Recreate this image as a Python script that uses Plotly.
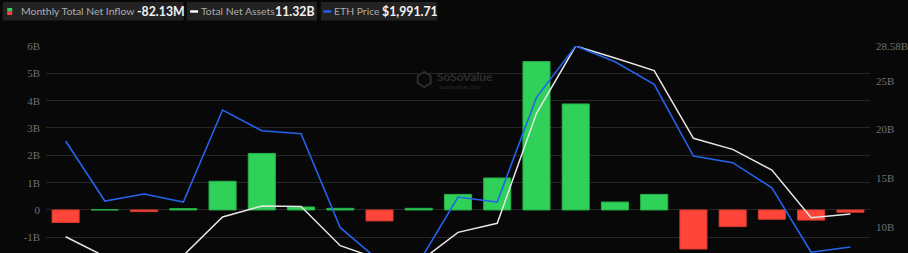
import math
import plotly.graph_objects as go

# ---------------- data ----------------
months = ["2024-07", "2024-08", "2024-09", "2024-10", "2024-11", "2024-12",
          "2025-01", "2025-02", "2025-03", "2025-04", "2025-05", "2025-06",
          "2025-07", "2025-08", "2025-09", "2025-10", "2025-11", "2025-12",
          "2026-01", "2026-02", "2026-03"]
net_inflow_b = [-0.46, 0.01, -0.06, 0.05, 1.05, 2.07, 0.11, 0.06, -0.40, 0.06,
                0.57, 1.17, 5.43, 3.88, 0.29, 0.57, -1.43, -0.61, -0.34, -0.37,
                -0.08213]
total_assets_b = [9.00, 6.97, 7.20, 7.07, 11.02, 12.15, 12.10, 8.08, 6.68, 6.38,
                  9.45, 10.38, 21.67, 28.58, 27.35, 26.05, 19.10, 17.97, 15.85,
                  10.95, 11.32]
eth_price = [3262, 2543, 2627, 2531, 3633, 3385, 3349, 2223, 1824, 1804,
             2591, 2531, 3785, 4400, 4212, 3941, 3082, 3002, 2702, 1929,
             1991.71]

left_tick_vals_b = [-1, 0, 1, 2, 3, 4, 5, 6]
left_tick_text = ["-1B", "0", "1B", "2B", "3B", "4B", "5B", "6B"]
right_tick_vals_b = [10, 15, 20, 25, 28.58]
right_tick_text = ["10B", "15B", "20B", "25B", "28.58B"]

legend_items = [
    ("Monthly Total Net Inflow", "-82.13M"),
    ("Total Net Assets", "11.32B"),
    ("ETH Price", "$1,991.71"),
]

GREEN = "#30D158"
RED = "#FF453A"
BLUE = "#2563EB"
WHITE = "#E6E6E6"
BG = "#080808"
GRID = "#262626"
TICK = "#707070"
PILL = "#222222"

W, H = 908, 253
ML, MR, MT, MB = 46, 33, 46, 0
PW, PH = W - ML - MR, H - MT - MB


def pxp(x):
    return (x - ML) / PW


def pyp(y):
    return (H - MB - y) / PH


fig = go.Figure()

inflow = [v * 1e9 for v in net_inflow_b]
fig.add_trace(go.Bar(
    x=months, y=inflow,
    marker=dict(color=[GREEN if v >= 0 else RED for v in inflow],
                line=dict(color=["#27b04a" if v >= 0 else "#d63a30" for v in inflow], width=1)),
    yaxis="y", showlegend=False, hoverinfo="skip"))

fig.add_trace(go.Scatter(
    x=months, y=[v * 1e9 for v in total_assets_b], mode="lines",
    line=dict(color=WHITE, width=1.5), yaxis="y2", showlegend=False))

fig.add_trace(go.Scatter(
    x=months, y=eth_price, mode="lines",
    line=dict(color=BLUE, width=1.6), yaxis="y3", showlegend=False))

left_min = 6 - PH / 27.33
right_min = 28.58 - PH / 9.74
eth_top = 4400
eth_min = eth_top - PH * 11.98

fig.update_layout(
    width=W, height=H,
    margin=dict(l=ML, r=MR, t=MT, b=MB, pad=0),
    paper_bgcolor=BG, plot_bgcolor=BG,
    bargap=0.31,
    xaxis=dict(type="category", range=[-0.5, len(months) - 0.5],
               showticklabels=False, showgrid=False, zeroline=False,
               showline=False, ticks=""),
    yaxis=dict(range=[left_min * 1e9, 6e9],
               tickvals=[v * 1e9 for v in left_tick_vals_b], ticktext=left_tick_text,
               showgrid=True, gridcolor=GRID, gridwidth=1,
               zeroline=True, zerolinecolor=GRID, zerolinewidth=1,
               showline=False, ticks="", ticklabelstandoff=5,
               tickfont=dict(family="Liberation Serif", size=11, color=TICK)),
    yaxis2=dict(range=[right_min * 1e9, 28.58e9], overlaying="y", side="right",
                tickvals=[v * 1e9 for v in right_tick_vals_b], ticktext=right_tick_text,
                showgrid=False, zeroline=False, showline=False, ticks="",
                ticklabelstandoff=5,
                tickfont=dict(family="Liberation Serif", size=11, color=TICK)),
    yaxis3=dict(range=[eth_min, eth_top], overlaying="y", side="left",
                visible=False, showgrid=False, zeroline=False),
)

shapes = []
annotations = []

# legend pills, drawn as paper shapes
pills = [(3, 184), (188, 318), (323, 439)]
label_x = [21, 202, 336]
value_x = [138, 276, 384]
for (x0, x1) in pills:
    shapes.append(dict(type="rect", xref="paper", yref="paper",
                       x0=pxp(x0), x1=pxp(x1), y0=pyp(20), y1=pyp(2.5),
                       fillcolor=PILL, opacity=1,
                       line=dict(color=PILL, width=1), layer="above"))

# legend icons
icons = [(7, 12, 8, 11.5, GREEN), (7, 12, 11.5, 15, RED),
         (191, 199, 10.3, 12.7, "#ffffff"), (325, 333, 10.3, 12.7, BLUE)]
for x0, x1, y0, y1, c in icons:
    shapes.append(dict(type="rect", xref="paper", yref="paper",
                       x0=pxp(x0), x1=pxp(x1), y0=pyp(y1), y1=pyp(y0),
                       fillcolor=c, line=dict(width=0), layer="above"))

for (label, value), lx, vx in zip(legend_items, label_x, value_x):
    annotations.append(dict(xref="paper", yref="paper", x=pxp(lx), y=pyp(11.5),
                            xanchor="left", yanchor="middle", showarrow=False,
                            text=label, borderpad=0, borderwidth=0,
                            font=dict(family="Lato", size=10.4, color="#acacac")))
    annotations.append(dict(xref="paper", yref="paper", x=pxp(vx), y=pyp(11.5),
                            xanchor="left", yanchor="middle", showarrow=False,
                            text=f"<b>{value}</b>", borderpad=0, borderwidth=0,
                            font=dict(family="Lato", size=12.3, color="#f2f2f2")))

# watermark
cx, cy, rr = 426.5, 79.5, 7.5
pts = [(cx + rr * math.cos(math.radians(90 + 60 * i)), cy + rr * math.sin(math.radians(90 + 60 * i))) for i in range(6)]
hpath = "M " + " L ".join(f"{pxp(a)},{pyp(b)}" for a, b in pts) + " Z"
shapes.append(dict(type="path", xref="paper", yref="paper", path=hpath,
                   fillcolor="rgba(0,0,0,0)", line=dict(color="#2e2e2e", width=2), layer="below"))
annotations.append(dict(xref="paper", yref="paper", x=pxp(439), y=pyp(76.5),
                        xanchor="left", yanchor="middle", showarrow=False,
                        text="<b>SoSoValue</b>", borderpad=0, borderwidth=0,
                        font=dict(family="Lato", size=12, color="#2e2e2e")))
annotations.append(dict(xref="paper", yref="paper", x=pxp(441), y=pyp(86.5),
                        xanchor="left", yanchor="middle", showarrow=False,
                        text="sosovalue.com", borderpad=0, borderwidth=0,
                        font=dict(family="Lato", size=6.5, color="#2a2a2a")))

fig.update_layout(shapes=shapes, annotations=annotations)

fig.write_html("out.html")
